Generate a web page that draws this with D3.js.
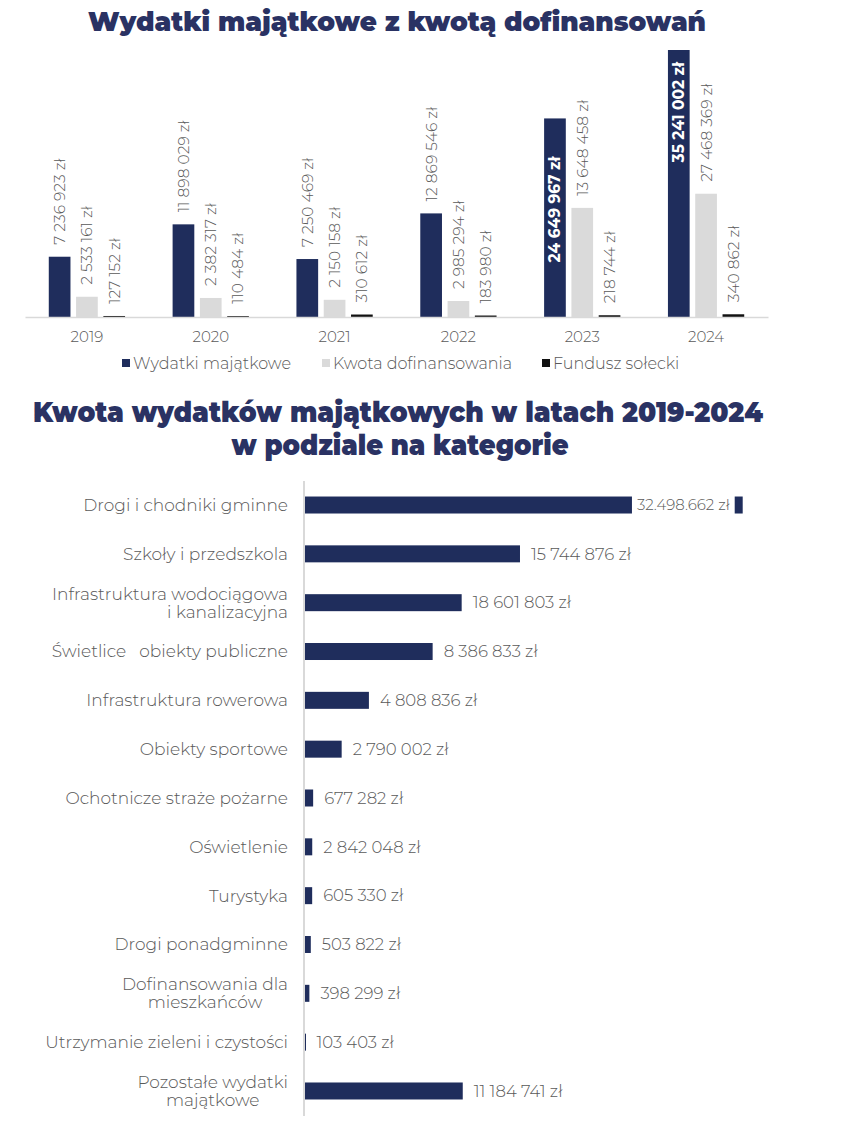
<!DOCTYPE html>
<html><head><meta charset="utf-8">
<script src="https://cdn.jsdelivr.net/npm/d3@7"></script>
<style>body{margin:0;background:#fff}svg{display:block}text{white-space:pre}</style>
</head><body>
<script>
// ---------- data: top chart ----------
const years = ["2019", "2020", "2021", "2022", "2023", "2024"];
const seriesNames = ["Wydatki majątkowe", "Kwota dofinansowania", "Fundusz sołecki"];
const wydatki = [7540000, 11590000, 7250469, 12960000, 24840000, 33400000];
const dofinansowanie = [2533161, 2382317, 2150158, 2000000, 13648458, 15420000];
const fundusz = [127152, 110484, 310612, 183980, 218744, 340862];
const wydatkiLabels = ["7 236 923 zł", "11 898 029 zł", "7 250 469 zł", "12 869 546 zł", "24 649 967 zł", "35 241 002 zł"];
const dofinansowanieLabels = ["2 533 161 zł", "2 382 317 zł", "2 150 158 zł", "2 985 294 zł", "13 648 458 zł", "27 468 369 zł"];
const funduszLabels = ["127 152 zł", "110 484 zł", "310 612 zł", "183 980 zł", "218 744 zł", "340 862 zł"];

// ---------- data: bottom chart ----------
const categories = [
  "Drogi i chodniki gminne", "Szkoły i przedszkola", "Infrastruktura wodociągowa\ni kanalizacyjna",
  "Świetlice   obiekty publiczne", "Infrastruktura rowerowa", "Obiekty sportowe",
  "Ochotnicze straże pożarne", "Oświetlenie", "Turystyka", "Drogi ponadgminne",
  "Dofinansowania dla\nmieszkańców", "Utrzymanie zieleni i czystości", "Pozostałe wydatki\nmajątkowe"
];
const categoryValues = [32498662, 16000000, 11680000, 9530000, 4808836, 2790002, 677282, 610000, 605330, 503822, 398299, 103403, 11760000];
const categoryLabels = ["32.498.662 zł", "15 744 876 zł", "18 601 803 zł", "8 386 833 zł", "4 808 836 zł", "2 790 002 zł",
  "677 282 zł", "2 842 048 zł", "605 330 zł", "503 822 zł", "398 299 zł", "103 403 zł", "11 184 741 zł"];

const W = 848, H = 1147;
const NAVY = "#1f2d5c", GREY = "#dadada", BLACK = "#111111", TXT = "#595959", TITLE = "#2a3263";
const FONT = "Montserrat, Inter, 'Noto Sans', sans-serif";
const TFONT = "Montserrat, Inter, Lato, sans-serif";

const svg = d3.select("body").append("svg").attr("width", W).attr("height", H)
  .style("font-family", FONT);

// ---------- top chart ----------
svg.append("text").attr("x", 397).attr("y", 31).attr("text-anchor", "middle")
  .attr("font-family", TFONT).attr("font-weight", 900).attr("font-size", 27)
  .attr("fill", TITLE).attr("textLength", 618).attr("lengthAdjust", "spacingAndGlyphs")
  .text("Wydatki majątkowe z kwotą dofinansowań");

const baseY = 317;
const x0 = d3.scaleBand().domain(years).range([25, 768]).paddingInner(0.384).paddingOuter(0.192);
const x1 = d3.scaleBand().domain(seriesNames).range([0, x0.bandwidth()]).paddingInner(0.205);
const y = d3.scaleLinear().domain([0, 33400000]).range([baseY, 50]);
const colors = d3.scaleOrdinal().domain(seriesNames).range([NAVY, GREY, BLACK]);

const seriesVals = [wydatki, dofinansowanie, fundusz];
const seriesLbls = [wydatkiLabels, dofinansowanieLabels, funduszLabels];
const barData = [];
years.forEach((yr, i) => seriesNames.forEach((s, j) => barData.push({ yr, s, v: seriesVals[j][i], lbl: seriesLbls[j][i] })));

svg.append("g").selectAll("rect").data(barData).join("rect")
  .attr("x", d => x0(d.yr) + x1(d.s))
  .attr("y", d => y(d.v))
  .attr("width", x1.bandwidth())
  .attr("height", d => baseY - y(d.v))
  .attr("fill", d => colors(d.s));

// axis line
const xAxis = svg.append("g").attr("transform", `translate(0,${baseY})`)
  .call(d3.axisBottom(x0).tickSize(0).tickPadding(14));
xAxis.select(".domain").attr("stroke", "#d9d9d9").attr("stroke-width", 1.5);
xAxis.selectAll("text").attr("font-family", FONT).attr("font-size", 15).attr("font-weight", 300).attr("fill", TXT);

const insideOffset = { "2023": 38, "2024": 12 };
svg.append("g").selectAll("text").data(barData).join("text")
  .each(function (d) {
    const cx = x0(d.yr) + x1(d.s) + x1.bandwidth() / 2;
    const inside = d.s === seriesNames[0] && insideOffset[d.yr] !== undefined;
    const t = d3.select(this);
    if (inside) {
      t.attr("transform", `translate(${cx},${y(d.v) + insideOffset[d.yr]}) rotate(-90)`)
        .attr("text-anchor", "end").attr("fill", "#ffffff").attr("font-weight", 700);
    } else {
      t.attr("transform", `translate(${cx},${y(d.v) - 12}) rotate(-90)`)
        .attr("text-anchor", "start").attr("fill", TXT).attr("font-weight", 300);
    }
    t.attr("dy", "0.35em").attr("font-size", 15.5).text(d.lbl);
  });

// legend
const legend = svg.append("g");
const legX = [122, 322, 542];
seriesNames.forEach((s, j) => {
  legend.append("rect").attr("x", legX[j]).attr("y", 359).attr("width", 8).attr("height", 8).attr("fill", colors(s));
  legend.append("text").attr("x", legX[j] + 11).attr("y", 363).attr("dy", "0.35em")
    .attr("font-size", 16).attr("font-weight", 300).attr("fill", TXT).text(s);
});

// ---------- bottom chart ----------
svg.append("text").attr("x", 398).attr("y", 422).attr("text-anchor", "middle")
  .attr("font-family", TFONT).attr("font-weight", 900).attr("font-size", 29)
  .attr("fill", TITLE).attr("textLength", 730).attr("lengthAdjust", "spacingAndGlyphs")
  .text("Kwota wydatków majątkowych w latach 2019-2024");
svg.append("text").attr("x", 400).attr("y", 455).attr("text-anchor", "middle")
  .attr("font-family", TFONT).attr("font-weight", 900).attr("font-size", 29)
  .attr("fill", TITLE).attr("textLength", 337).attr("lengthAdjust", "spacingAndGlyphs")
  .text("w podziale na kategorie");

const xb = d3.scaleLinear().domain([0, 32498662]).range([304, 742.7]);
const yb = d3.scaleBand().domain(categories).range([480.6, 1115.4]).paddingInner(0.652).paddingOuter(0.326);

const yAxis = svg.append("g").attr("transform", "translate(303.5,0)")
  .call(d3.axisLeft(yb).tickSize(0).tickFormat(""));
yAxis.select(".domain").attr("stroke", "#d9d9d9").attr("stroke-width", 2);

const bData = categories.map((c, i) => ({ c, v: categoryValues[i], lbl: categoryLabels[i], i }));
svg.append("g").selectAll("rect").data(bData).join("rect")
  .attr("x", xb(0) + 1).attr("y", d => yb(d.c))
  .attr("width", d => Math.max(1, xb(d.v) - xb(0) - 1)).attr("height", yb.bandwidth())
  .attr("fill", NAVY);

// value labels
bData.forEach(d => {
  const cy = yb(d.c) + yb.bandwidth() / 2;
  if (d.i === 0) {
    const tx = xb(d.v) - 13;
    const t = svg.append("text").attr("x", tx).attr("y", cy).attr("dy", "0.35em")
      .attr("text-anchor", "end").attr("font-size", 15).attr("font-weight", 300).attr("fill", TXT).text(d.lbl);
    const bb = t.node().getBBox();
    svg.insert("rect", () => t.node()).attr("x", bb.x - 5).attr("y", yb(d.c) - 2)
      .attr("width", bb.width + 10).attr("height", yb.bandwidth() + 9).attr("fill", "#fff");
  } else {
    svg.append("text").attr("x", xb(d.v) + 11).attr("y", cy).attr("dy", "0.35em")
      .attr("font-size", 16.5).attr("font-weight", 300).attr("fill", TXT).text(d.lbl);
  }
});

// category labels
bData.forEach(d => {
  const cy = yb(d.c) + yb.bandwidth() / 2;
  const lines = d.c.split("\n");
  const g = svg.append("g");
  const lh = 18;
  const texts = lines.map((ln, k) => g.append("text")
    .attr("xml:space", "preserve").style("white-space", "pre")
    .attr("y", cy + (k - (lines.length - 1) / 2) * lh).attr("dy", "0.35em")
    .attr("font-size", 17).attr("font-weight", 300).attr("fill", TXT).text(ln));
  const right = 288;
  if (lines.length === 1 || d.c.startsWith("Infrastruktura wodo")) {
    texts.forEach(t => t.attr("x", right).attr("text-anchor", "end"));
  } else {
    const maxW = d3.max(texts, t => t.node().getComputedTextLength());
    texts.forEach(t => t.attr("x", right - maxW / 2).attr("text-anchor", "middle"));
  }
});
</script>
</body></html>
